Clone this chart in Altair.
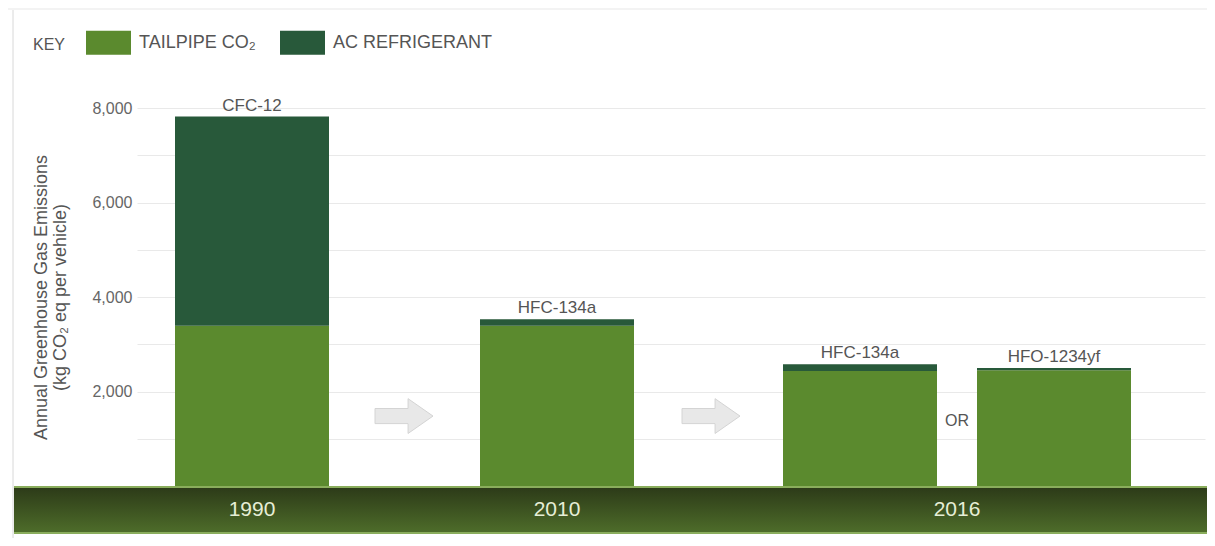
import altair as alt
import pandas as pd

# ---- data ----
series = ["TAILPIPE CO₂", "AC REFRIGERANT"]
refrigerants = ["CFC-12", "HFC-134a", "HFC-134a", "HFO-1234yf"]
bar_slot = [115, 420, 723, 917]          # horizontal slot of each bar (x-scale units)
tailpipe = [3390, 3390, 2435, 2450]
ac_refrigerant = [4430, 140, 142, 45]
years = ["1990", "2010", "2016"]
year_slot = [115, 420, 820]
arrow_slot = [267, 574]
or_slot = [820]

# ---- tables ----
rows = []
for i, r in enumerate(refrigerants):
    rows.append({"slot": bar_slot[i], "series": series[0], "value": tailpipe[i], "ord": 0})
    rows.append({"slot": bar_slot[i], "series": series[1], "value": ac_refrigerant[i], "ord": 1})
bars_df = pd.DataFrame(rows)
tops_df = pd.DataFrame({
    "slot": bar_slot,
    "total": [t + a for t, a in zip(tailpipe, ac_refrigerant)],
    "label": refrigerants,
})
years_df = pd.DataFrame({"slot": year_slot, "year": years, "y": [-508] * len(years)})
arrows_df = pd.DataFrame({"slot": arrow_slot, "y": [1480] * len(arrow_slot)})
or_df = pd.DataFrame({"slot": or_slot, "y": [1376], "t": ["OR"]})
band_df = pd.DataFrame({"x": [-123], "x2": [1100], "lo": [-995], "hi": [-21]})
key_df = pd.DataFrame({"t": ["KEY"]})

FONT = "Liberation Sans"
xs = alt.Scale(domain=[0, 1068], padding=0, nice=False, zero=False)
ys = alt.Scale(domain=[0, 8000], padding=0, nice=False)

yaxis = alt.Axis(
    values=list(range(1000, 9000, 1000)),
    labelExpr="datum.value % 2000 === 0 ? format(datum.value, ',') : ''",
    title=["Annual Greenhouse Gas Emissions", "(kg CO₂ eq per vehicle)"],
    titleFont=FONT, titleFontSize=18, titleFontWeight="normal", titleColor="#555555",
    titleLineHeight=19, titlePadding=22,
    labelFont=FONT, labelFontSize=16, labelColor="#666666", labelPadding=5,
    ticks=False, domain=False, gridColor="#e9e9e9",
)


def X(field):
    return alt.X(field, scale=xs, axis=None)


def Y(field, **kw):
    return alt.Y(field, scale=ys, axis=yaxis, **kw)


bars = alt.Chart(bars_df).mark_bar(width=154, orient="vertical").encode(
    x=X("slot:Q"),
    y=Y("value:Q", stack="zero"),
    color=alt.Color(
        "series:N",
        scale=alt.Scale(domain=series, range=["#5b8a2e", "#28593a"]),
        legend=alt.Legend(
            title=None, orient="none", legendX=-51, legendY=-88,
            direction="horizontal",
            symbolType="M-1,-0.533H1V0.533H-1Z", symbolSize=2025, symbolStrokeWidth=0,
            symbolOpacity=1,
            labelFont=FONT, labelFontSize=18, labelColor="#555555", labelOffset=8,
            columnPadding=24,
        ),
    ),
    order=alt.Order("ord:Q"),
)

key_text = alt.Chart(key_df).mark_text(
    align="left", baseline="middle", font=FONT, fontSize=16, color="#555555"
).encode(x=alt.value(-104), y=alt.value(-63), text="t:N")

labels = alt.Chart(tops_df).mark_text(
    baseline="alphabetic", dy=-6, font=FONT, fontSize=17, color="#555555"
).encode(
    x=X("slot:Q"),
    y=Y("total:Q"),
    text="label:N",
)

arrow_path = "M-1,-0.26L0.14,-0.26L0.14,-0.6L1,0L0.14,0.6L0.14,0.26L-1,0.26Z"
arrows = alt.Chart(arrows_df).mark_point(
    shape=arrow_path, size=3364, filled=True, fill="#e8e8e8", stroke="#d4d4d4",
    strokeWidth=1, opacity=1
).encode(
    x=X("slot:Q"),
    y=Y("y:Q"),
)

or_text = alt.Chart(or_df).mark_text(
    baseline="middle", font=FONT, fontSize=16, color="#555555"
).encode(
    x=X("slot:Q"),
    y=Y("y:Q"),
    text="t:N",
)

band = alt.Chart(band_df).mark_rect(
    color=alt.Gradient(
        gradient="linear",
        stops=[alt.GradientStop(color="#2c3a18", offset=0),
               alt.GradientStop(color="#4e6d2a", offset=1)],
        x1=0, x2=0, y1=0, y2=1,
    )
).encode(
    x=X("x:Q"), x2="x2:Q",
    y=Y("hi:Q"), y2="lo:Q",
)
band_top = alt.Chart(band_df).mark_rule(color="#8aad5c", strokeWidth=2).encode(
    x=X("x:Q"), x2="x2:Q",
    y=Y("hi:Q"),
)
band_bottom = alt.Chart(band_df).mark_rule(color="#8aad5c", strokeWidth=2).encode(
    x=X("x:Q"), x2="x2:Q",
    y=Y("lo:Q"),
)

year_text = alt.Chart(years_df).mark_text(
    baseline="middle", font=FONT, fontSize=21, color="#e6eed6"
).encode(
    x=X("slot:Q"),
    y=Y("y:Q"),
    text="year:N",
)

top_strip = alt.Chart(band_df).mark_rect(color="#f3f3f3").encode(
    x=alt.value(-129), x2=alt.value(1078), y=alt.value(-100), y2=alt.value(-98)
)
left_border = alt.Chart(band_df).mark_rule(color="#d8d8d8", strokeWidth=1).encode(
    x=alt.value(-124), y=alt.value(-98), y2=alt.value(440)
)

chart = alt.layer(
    top_strip, left_border, bars, key_text, labels, arrows, or_text,
    band, band_top, band_bottom, year_text
).properties(
    width=1068, height=378,
    autosize=alt.AutoSizeParams(type="none"),
    padding={"left": 129, "top": 100, "right": 2, "bottom": 52},
).configure_view(stroke=None)

chart.save("out.html", embed_options={"renderer": "svg", "actions": False})
